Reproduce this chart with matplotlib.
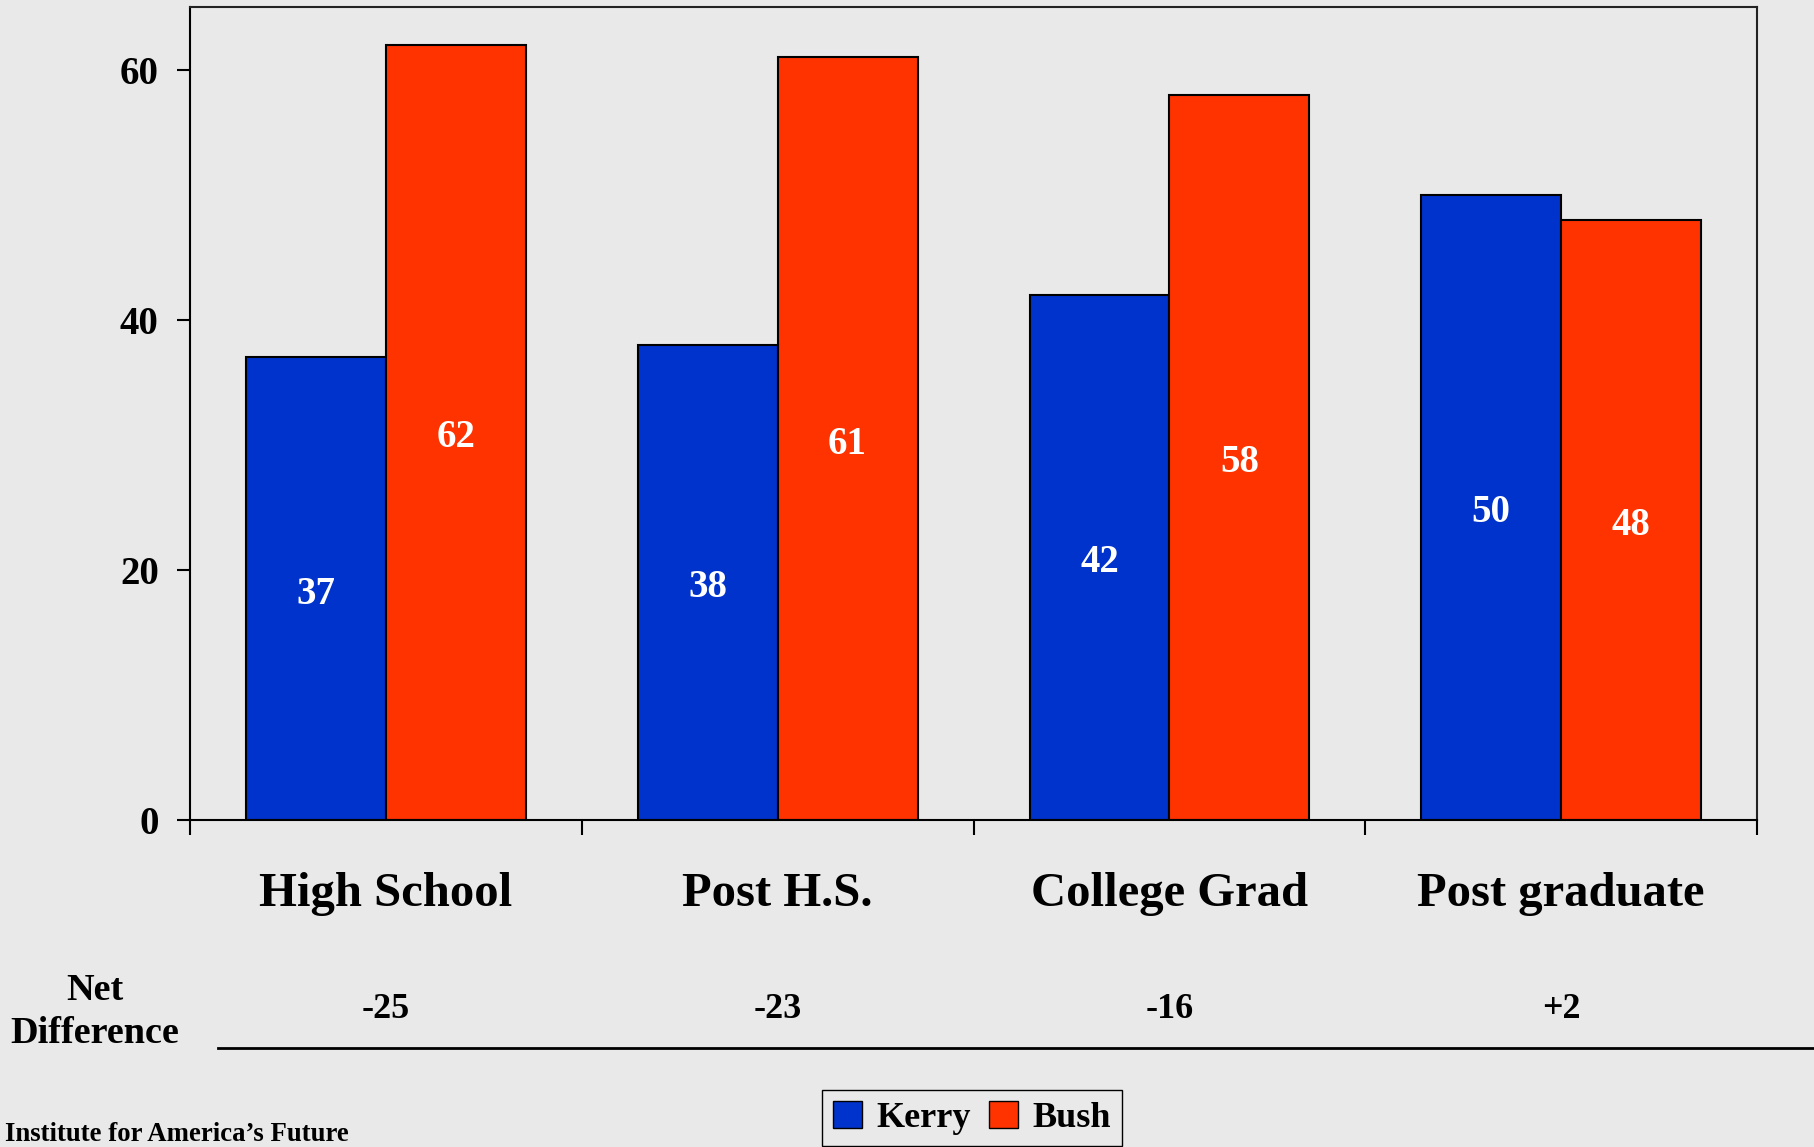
import numpy as np
import matplotlib.pyplot as plt
from matplotlib.patches import Patch
from matplotlib.lines import Line2D

# education groups, 2004 vote share (%)
categories = ['High School', 'Post H.S.', 'College Grad', 'Post graduate']
kerry = [37, 38, 42, 50]
bush = [62, 61, 58, 48]
net_labels = ['-25', '-23', '-16', '+2']

bg = '#e9e9e9'
blue = '#0033cc'
red = '#ff3300'

plt.rcParams['font.family'] = ['Liberation Serif', 'DejaVu Serif']
plt.rcParams['font.weight'] = 'bold'

fig = plt.figure(figsize=(18.15, 11.47), dpi=100, facecolor=bg)
ax = fig.add_axes([0.1047, 0.2851, 0.8634, 0.7088], facecolor=bg)

x = np.arange(len(categories))
w = 0.357
b1 = ax.bar(x - w / 2, kerry, w, color=blue, edgecolor='black', linewidth=1.5)
b2 = ax.bar(x + w / 2, bush, w, color=red, edgecolor='black', linewidth=1.5)

# value labels sit at half bar height
for bars, vals in ((b1, kerry), (b2, bush)):
    for r, v in zip(bars, vals):
        ax.text(r.get_x() + r.get_width() / 2, v / 2 - 0.45, str(v), ha='center',
                va='center', color='white', fontsize=28, fontweight='bold')

ax.set_xlim(-0.5, len(categories) - 0.5)
ax.set_ylim(0, 65)
ax.set_yticks([0, 20, 40, 60])
ax.tick_params(axis='y', labelsize=28, length=9.5, width=1.5, pad=13)
for lab in ax.get_yticklabels():
    lab.set_fontweight('bold')

ax.set_xticks(np.arange(len(categories) + 1) - 0.5)
ax.set_xticklabels([])
ax.tick_params(axis='x', length=11, width=1.5)

for s in ax.spines.values():
    s.set_linewidth(1.5)
    s.set_color('#222222')
ax.spines['left'].set_color('black')
ax.spines['bottom'].set_color('black')

tr = ax.get_xaxis_transform()
for i, c in enumerate(categories):
    ax.text(i, -0.0905, c, transform=tr, ha='center', va='center',
            fontsize=35, fontweight='bold')
for i, n in enumerate(net_labels):
    ax.text(i, -0.233, n, transform=tr, ha='center', va='center',
            fontsize=26, fontweight='bold')

fig.text(0.0523, 0.1177, 'Net\nDifference', ha='center', va='center',
         fontsize=27.5, fontweight='bold', linespacing=1.3)
fig.add_artist(Line2D([0.120, 1.0], [0.0863, 0.0863], color='black', linewidth=2))

handles = [Patch(facecolor=blue, edgecolor='black', label='Kerry'),
           Patch(facecolor=red, edgecolor='black', label='Bush')]
fig.legend(handles=handles, loc='upper center', bbox_to_anchor=(0.5355, 0.0497),
           ncol=2, frameon=True, fancybox=False, edgecolor='black',
           facecolor=bg, framealpha=1, prop={'size': 26, 'weight': 'bold'},
           handlelength=0.8, handleheight=0.8, handletextpad=0.4,
           columnspacing=0.5, borderpad=0.3, borderaxespad=0)

fig.text(0.003, 0.0105, 'Institute for America\u2019s Future', ha='left',
         va='center', fontsize=19.3, fontweight='bold')

fig.savefig('out.png', dpi=100, facecolor=bg)
